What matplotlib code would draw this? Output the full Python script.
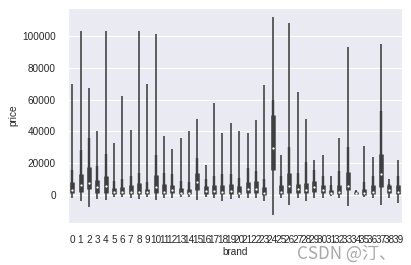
import numpy as np
import matplotlib
matplotlib.use('Agg')
import matplotlib.pyplot as plt
import seaborn as sns

# per-brand summary of price
brands = list(range(40))
hi = [70000, 103000, 67000, 40000, 103000, 33000, 62000, 41000, 103000, 70000,
      101000, 37000, 29000, 36000, 40000, 48000, 19000, 58000, 39000, 45000,
      40000, 39000, 47000, 69000, 112000, 25000, 108000, 65000, 48000, 22000,
      25000, 12000, 36000, 93000, 3000, 31000, 24000, 95000, 10000, 22000]
whisker = [16000, 28000, 36000, 18000, 26000, 9000, 10000, 12000, 14000, 8000,
           25000, 14000, 13000, 9000, 8000, 23000, 10000, 12000, 13000, 13000,
           11000, 17000, 15000, 10000, 60000, 12000, 30000, 14000, 21000, 16000,
           12000, 6000, 15000, 30000, 2500, 8000, 12000, 53000, 7000, 12000]
q3 = [8000, 13500, 17500, 9400, 12000, 4500, 5000, 6000, 7500, 4000,
      12500, 7000, 6000, 4500, 4000, 13800, 5500, 6500, 6500, 7000,
      5500, 8000, 8500, 5000, 50000, 6000, 14000, 7000, 7500, 8500,
      6500, 3000, 6000, 14700, 2200, 4000, 6000, 26000, 6000, 6500]
median = [3200, 6300, 7300, 4800, 5700, 2000, 2200, 2100, 2000, 1800,
          4800, 2100, 3000, 1500, 1500, 8000, 2500, 2300, 2000, 2600,
          1500, 3600, 3600, 1500, 29600, 2100, 5700, 3600, 3000, 4800,
          3000, 1500, 2000, 5900, 1500, 1000, 2000, 13000, 2900, 2000]
q1 = [1000, 2000, 3600, 1500, 1000, 500, 600, 600, 600, 500,
      1500, 800, 1000, 500, 500, 3100, 800, 700, 500, 800,
      500, 1200, 1200, 300, 16000, 800, 1500, 1200, 1000, 2000,
      1000, 600, 600, 3000, 800, 300, 500, 5000, 1000, 500]
lo = [-2000, -3500, -7300, -2700, -3100, -1000, -1500, -2000, -2500, -1000,
      -3000, -2000, -2000, -1000, -1000, -3000, -1000, -2000, -3500, -2500,
      -2000, -2000, -2000, -4000, -12600, -2000, -6000, -2000, -3500, -2000,
      -2000, -500, -2000, -6600, 500, -1000, -2000, -6000, -2000, -5000]

sns.set_theme(style='darkgrid')
plt.rcParams['font.family'] = ['Liberation Sans', 'DejaVu Sans']

fig = plt.figure(figsize=(411 / 72, 265 / 72), dpi=72)
ax = fig.add_axes([0.1655, 0.1585, 0.8125, 0.8115])

x = np.arange(len(brands))
dark = '#3f3f3f'
ax.vlines(x, lo, hi, color=dark, lw=1.6, zorder=2)
ax.vlines(x, q1, whisker, color=dark, lw=2.4, zorder=2)
ax.vlines(x, q1, q3, color=dark, lw=4.5, zorder=2)
ax.scatter(x, median, s=5, color='white', zorder=3, linewidths=0)

ax.set_xlim(-0.5, len(brands) - 0.5)
ax.set_ylim(-17600, 117600)
ax.set_xticks(x)
ax.set_xticklabels([str(b) for b in brands])
ax.grid(False, axis='x')
ax.tick_params(labelsize=10, pad=6)
ax.set_xlabel('brand', fontsize=10, labelpad=2)
ax.set_ylabel('price', fontsize=10)

# watermark
fig.text(0.722, 0.025, 'CSDN @汀、', fontsize=17, color='#a8a8a8',
         fontweight='light', family=['Noto Sans CJK SC', 'DejaVu Sans'])

fig.savefig('out.png', dpi=72)
